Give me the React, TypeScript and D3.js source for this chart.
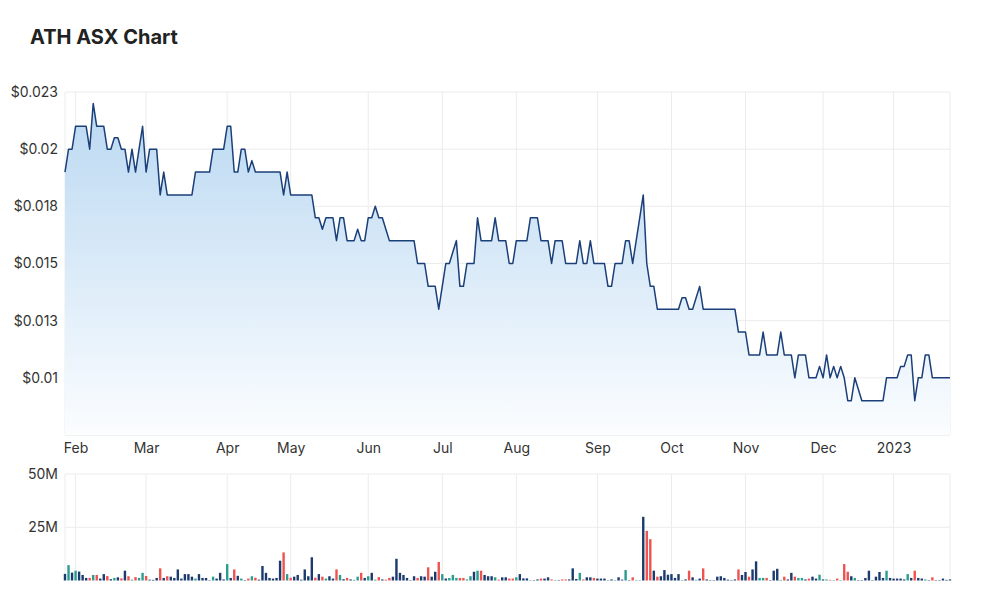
import React, { useEffect, useRef } from 'react';
import * as d3 from 'd3';

// daily closing prices, one per trading day (27 Jan 2022 -> 25 Jan 2023)
const closePrices = [
  0.019, 0.020, 0.020, 0.021, 0.021, 0.021, 0.021, 0.020, 0.022, 0.021,
  0.021, 0.021, 0.020, 0.020, 0.0205, 0.0205, 0.020, 0.020, 0.019, 0.020,
  0.019, 0.020, 0.021, 0.019, 0.020, 0.020, 0.020, 0.018, 0.019, 0.018,
  0.018, 0.018, 0.018, 0.018, 0.018, 0.018, 0.018, 0.019, 0.019, 0.019,
  0.019, 0.019, 0.020, 0.020, 0.020, 0.020, 0.021, 0.021, 0.019, 0.019,
  0.020, 0.020, 0.019, 0.0195, 0.019, 0.019, 0.019, 0.019, 0.019, 0.019,
  0.019, 0.019, 0.018, 0.019, 0.018, 0.018, 0.018, 0.018, 0.018, 0.018,
  0.018, 0.017, 0.017, 0.0165, 0.017, 0.017, 0.017, 0.016, 0.017, 0.017,
  0.016, 0.016, 0.016, 0.0165, 0.016, 0.016, 0.017, 0.017, 0.0175, 0.017,
  0.017, 0.0165, 0.016, 0.016, 0.016, 0.016, 0.016, 0.016, 0.016, 0.016,
  0.015, 0.015, 0.015, 0.014, 0.014, 0.014, 0.013, 0.014, 0.015, 0.015,
  0.0155, 0.016, 0.014, 0.014, 0.015, 0.015, 0.015, 0.017, 0.016, 0.016,
  0.016, 0.016, 0.017, 0.016, 0.016, 0.016, 0.015, 0.015, 0.016, 0.016,
  0.016, 0.016, 0.017, 0.017, 0.017, 0.016, 0.016, 0.016, 0.015, 0.016,
  0.016, 0.016, 0.015, 0.015, 0.015, 0.015, 0.016, 0.015, 0.015, 0.016,
  0.015, 0.015, 0.015, 0.015, 0.014, 0.014, 0.015, 0.015, 0.015, 0.016,
  0.016, 0.015, 0.016, 0.017, 0.018, 0.015, 0.014, 0.014, 0.013, 0.013,
  0.013, 0.013, 0.013, 0.013, 0.013, 0.0135, 0.0135, 0.013, 0.013, 0.0135,
  0.014, 0.013, 0.013, 0.013, 0.013, 0.013, 0.013, 0.013, 0.013, 0.013,
  0.013, 0.012, 0.012, 0.012, 0.011, 0.011, 0.011, 0.011, 0.012, 0.011,
  0.011, 0.011, 0.011, 0.012, 0.011, 0.011, 0.011, 0.010, 0.011, 0.011,
  0.011, 0.010, 0.010, 0.010, 0.0105, 0.010, 0.011, 0.010, 0.0105, 0.010,
  0.0105, 0.010, 0.009, 0.009, 0.010, 0.0095, 0.009, 0.009, 0.009, 0.009,
  0.009, 0.009, 0.009, 0.010, 0.010, 0.010, 0.010, 0.0105, 0.0105, 0.011,
  0.011, 0.009, 0.010, 0.010, 0.011, 0.011, 0.010, 0.010, 0.010, 0.010,
  0.010, 0.010
];

// daily volume in millions of shares
const volumesM = [
  3.1, 7.2, 3.7, 4.6, 4.2, 2.6, 1.2, 1.2, 2.6, 2.6,
  0.9, 3.0, 2.1, 0.6, 1.2, 1.5, 1.0, 4.6, 2.0, 0.4,
  1.6, 1.2, 3.6, 2.1, 0.4, 0.3, 1.2, 5.7, 1.2, 2.0,
  1.8, 1.2, 5.2, 0.9, 3.0, 3.0, 1.8, 0.9, 3.0, 1.2,
  1.2, 0.2, 1.8, 0.9, 3.6, 0.5, 7.7, 1.2, 5.2, 2.2,
  0.9, 0.2, 0.9, 2.0, 1.3, 0.4, 6.8, 3.6, 1.2, 0.9,
  1.2, 9.3, 13.2, 3.0, 1.3, 1.8, 2.6, 0.4, 5.2, 2.0,
  10.9, 1.3, 3.0, 1.8, 0.9, 2.0, 0.9, 5.2, 2.6, 0.6,
  1.2, 0.5, 0.3, 1.8, 3.6, 1.2, 2.0, 3.6, 0.4, 1.6,
  0.5, 0.4, 1.2, 1.8, 10.2, 3.6, 2.6, 1.2, 0.2, 2.0,
  1.2, 2.0, 1.8, 6.2, 1.8, 4.1, 8.7, 3.0, 0.9, 1.2,
  2.6, 1.2, 1.2, 1.2, 0.5, 2.0, 4.1, 4.6, 4.6, 2.6,
  2.0, 2.0, 1.5, 0.4, 1.5, 1.5, 0.9, 0.9, 1.5, 3.0,
  1.0, 1.0, 0.2, 0.2, 0.5, 0.9, 0.9, 1.5, 0.5, 0.2,
  0.2, 0.5, 0.5, 0.5, 5.7, 0.7, 3.6, 0.5, 1.5, 1.5,
  1.2, 0.9, 0.9, 0.9, 0.2, 0.5, 0.2, 1.5, 0.4, 4.9,
  0.2, 1.5, 0.2, 0.2, 29.9, 23.3, 19.4, 4.6, 1.8, 2.0,
  4.9, 2.7, 3.0, 1.2, 3.0, 0.2, 0.5, 4.6, 1.5, 0.3,
  0.9, 5.7, 0.5, 0.2, 0.2, 1.8, 2.0, 1.2, 0.4, 0.2,
  0.5, 5.2, 2.6, 4.0, 1.8, 5.2, 9.0, 1.2, 1.2, 1.2,
  0.2, 4.6, 5.5, 0.3, 1.8, 0.5, 3.6, 1.8, 1.2, 1.2,
  0.5, 0.9, 1.8, 0.9, 2.7, 0.5, 0.5, 0.3, 0.2, 0.9,
  0.2, 7.7, 4.1, 2.0, 1.2, 0.2, 0.2, 1.2, 4.6, 0.2,
  1.8, 4.0, 1.2, 4.6, 1.2, 0.9, 0.9, 0.9, 0.5, 3.0,
  1.2, 4.6, 1.2, 0.9, 0.5, 0.2, 1.5, 0.2, 0.2, 0.9,
  0.3, 0.5
];

// bar colour class per day: n = neutral, t = up, r = down
const volumeKind = (
  'ntntnnnrtr' + 'nnrntnrnrt' + 'rttrnnnrnr' + 'nnnnnnntnn' + 'nntnnntnrn' +
  'tnrtrnnnnn' + 'nnrtrnnnnn' + 'nrnrtnnrtn' + 'rnttrntntr' + 'nrrnnnnnnn' +
  'rnnrnnrtnt' + 'ttrrttntrn' + 'nntrnnrrtn' + 'nntnnrnnrt' + 'nrrnnntrnn' +
  'rnnntntnnt' + 'nrttnrrnrn' + 'nnnnntnrnt' + 'nrnnnnnnnn' + 'nrnnrnnttr' +
  'nnntrnnrtt' + 'nrnntntrtr' + 'trrntnnnnn' + 'nnntnnnnnt' + 'nrnntnrnnnnn'
).split('');

// month ticks: trading-day index of the first session in each month
const monthIndex = [3, 23, 46, 64, 86, 107, 128, 151, 172, 193, 215, 235];
const monthLabels = ['Feb', 'Mar', 'Apr', 'May', 'Jun', 'Jul', 'Aug', 'Sep', 'Oct', 'Nov', 'Dec', '2023'];

const priceTicks = [0.01, 0.0125, 0.015, 0.0175, 0.02, 0.0225];
const priceTickLabels = ['$0.01', '$0.013', '$0.015', '$0.018', '$0.02', '$0.023'];

const volumeTicks = [25, 50];
const volumeTickLabels = ['25M', '50M'];

function App() {
  const chartRef = useRef<SVGSVGElement | null>(null);

  useEffect(() => {
    var width = 1000,
      height = 609,
      left = 65,
      right = 950,
      priceTop = 92,
      priceBottom = 435,
      volTop = 474,
      volBottom = 580.5;

    var font = 'Inter, Roboto, "Open Sans", sans-serif';
    var gridColor = '#ececec';
    var textColor = '#333333';
    var colors: Record<string, string> = { n: '#1b3a6d', t: '#2a9d8f', r: '#ef5350' };

    var svg = d3.select(chartRef.current);
    svg.selectAll('*').remove();
    svg.attr('width', width).attr('height', height);

    var n = closePrices.length;
    var x = d3.scaleLinear().domain([0, n - 1]).range([left, right]);
    var y = d3.scaleLinear().domain([0.0075, 0.0225]).range([priceBottom, priceTop]);
    var yv = d3.scaleLinear().domain([0, 50]).range([volBottom, volTop]);

    // title
    svg.append('text')
      .attr('x', 30)
      .attr('y', 44)
      .attr('font-family', font)
      .attr('font-weight', 700)
      .attr('font-size', 20)
      .attr('fill', '#222')
      .text('ATH ASX Chart');

    // gradient for the area
    var defs = svg.append('defs');
    var grad = defs.append('linearGradient')
      .attr('id', 'areaFill')
      .attr('gradientUnits', 'userSpaceOnUse')
      .attr('x1', 0).attr('x2', 0)
      .attr('y1', priceTop).attr('y2', priceBottom);
    grad.append('stop').attr('offset', '0%').attr('stop-color', '#b8d7f1');
    grad.append('stop').attr('offset', '100%').attr('stop-color', '#fbfdff');

    // grids: price panel
    var grid = svg.append('g');
    grid.selectAll('.hp')
      .data(priceTicks)
      .enter().append('line')
      .attr('x1', left).attr('x2', right)
      .attr('y1', d => y(d)).attr('y2', d => y(d))
      .attr('stroke', gridColor);
    grid.append('line')
      .attr('x1', left).attr('x2', right)
      .attr('y1', priceBottom).attr('y2', priceBottom)
      .attr('stroke', '#e3e3e3');
    [left, right].forEach(function (px) {
      grid.append('line')
        .attr('x1', px).attr('x2', px)
        .attr('y1', priceTop).attr('y2', priceBottom)
        .attr('stroke', gridColor);
    });
    grid.selectAll('.vp')
      .data(monthIndex)
      .enter().append('line')
      .attr('x1', d => x(d)).attr('x2', d => x(d))
      .attr('y1', priceTop).attr('y2', priceBottom)
      .attr('stroke', gridColor);

    // grids: volume panel
    grid.selectAll('.hv')
      .data(volumeTicks)
      .enter().append('line')
      .attr('x1', left).attr('x2', right)
      .attr('y1', d => yv(d)).attr('y2', d => yv(d))
      .attr('stroke', gridColor);
    grid.selectAll('.vv')
      .data(monthIndex)
      .enter().append('line')
      .attr('x1', d => x(d)).attr('x2', d => x(d))
      .attr('y1', volTop).attr('y2', volBottom)
      .attr('stroke', gridColor);
    [left, right].forEach(function (px) {
      grid.append('line')
        .attr('x1', px).attr('x2', px)
        .attr('y1', volTop).attr('y2', volBottom)
        .attr('stroke', gridColor);
    });

    // area + line
    var area = d3.area<number>()
      .x((d, i) => x(i))
      .y0(priceBottom)
      .y1(d => y(d));
    var line = d3.line<number>()
      .x((d, i) => x(i))
      .y(d => y(d));

    svg.append('path')
      .datum(closePrices)
      .attr('d', area)
      .attr('fill', 'url(#areaFill)');
    svg.append('path')
      .datum(closePrices)
      .attr('d', line)
      .attr('fill', 'none')
      .attr('stroke', '#1b3f78')
      .attr('stroke-width', 1.5)
      .attr('stroke-linejoin', 'round');

    // volume bars
    var barW = 2.4;
    svg.append('g')
      .selectAll('rect')
      .data(volumesM)
      .enter().append('rect')
      .attr('x', (d, i) => x(i) - barW / 2)
      .attr('y', d => yv(d))
      .attr('width', barW)
      .attr('height', d => volBottom - yv(d))
      .attr('fill', (d, i) => colors[volumeKind[i]] || colors.n);

    // y axis labels
    var yAxis = d3.axisLeft(y)
      .tickValues(priceTicks)
      .tickFormat((d, i) => priceTickLabels[i])
      .tickSize(0)
      .tickPadding(7);
    var gy = svg.append('g').attr('transform', 'translate(' + left + ',0)').call(yAxis);
    gy.select('.domain').remove();
    gy.selectAll('text')
      .attr('font-family', font)
      .attr('font-size', 14)
      .attr('fill', textColor);

    var vAxis = d3.axisLeft(yv)
      .tickValues(volumeTicks)
      .tickFormat((d, i) => volumeTickLabels[i])
      .tickSize(0)
      .tickPadding(7);
    var gv = svg.append('g').attr('transform', 'translate(' + left + ',0)').call(vAxis);
    gv.select('.domain').remove();
    gv.selectAll('text')
      .attr('font-family', font)
      .attr('font-size', 14)
      .attr('fill', textColor);

    // x axis labels
    var xAxis = d3.axisBottom(x)
      .tickValues(monthIndex)
      .tickFormat((d, i) => monthLabels[i])
      .tickSize(0)
      .tickPadding(8);
    var gx = svg.append('g').attr('transform', 'translate(0,' + priceBottom + ')').call(xAxis);
    gx.select('.domain').remove();
    gx.selectAll('text')
      .attr('font-family', font)
      .attr('font-size', 14)
      .attr('fill', textColor);
  }, []);

  return (
    <div style={{ position: 'absolute', left: 0, top: 0, background: '#fff' }}>
      <svg ref={chartRef}></svg>
    </div>
  );
}

export default App;
